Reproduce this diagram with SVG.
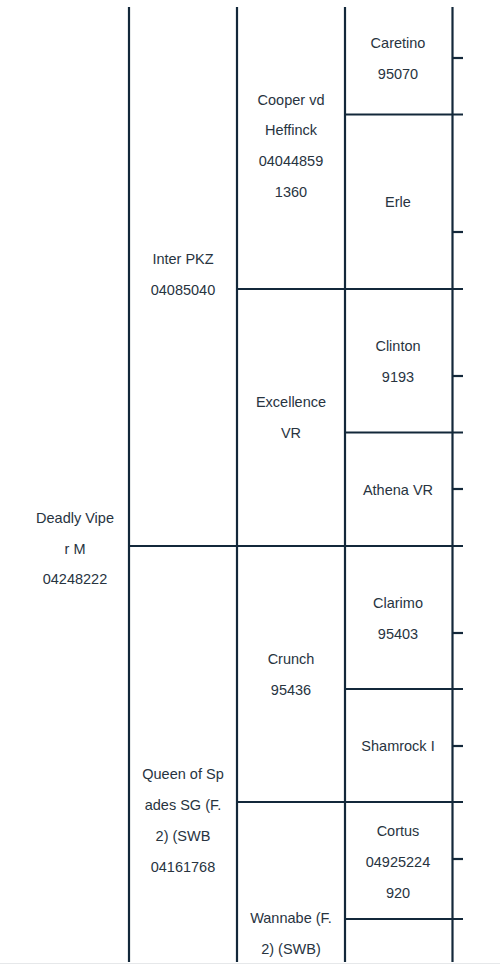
<svg xmlns="http://www.w3.org/2000/svg" width="500" height="966" viewBox="0 0 500 966">
<style>
.ln{stroke:#13283a;stroke-width:2.2;fill:none}
.t{font-family:"Liberation Sans",Arial,sans-serif;font-size:14.5px;fill:#28343f;text-anchor:middle;dominant-baseline:central}
</style>
<rect width="500" height="966" fill="#ffffff"/>
<line x1="0" y1="963.5" x2="500" y2="963.5" stroke="#e6e8ea" stroke-width="1"/>
<g id="connectors">
<line class="ln" x1="129" y1="7" x2="129" y2="962"/>
<line class="ln" x1="237" y1="7" x2="237" y2="962"/>
<line class="ln" x1="345" y1="7" x2="345" y2="962"/>
<line class="ln" x1="452.5" y1="7" x2="452.5" y2="962"/>
<line class="ln" x1="129" y1="546" x2="463" y2="546"/>
<line class="ln" x1="237" y1="289" x2="463" y2="289"/>
<line class="ln" x1="237" y1="802" x2="463" y2="802"/>
<line class="ln" x1="345" y1="114.5" x2="463" y2="114.5"/>
<line class="ln" x1="345" y1="432.5" x2="463" y2="432.5"/>
<line class="ln" x1="345" y1="689" x2="463" y2="689"/>
<line class="ln" x1="345" y1="919" x2="463" y2="919"/>
<line class="ln" x1="452.5" y1="58" x2="463" y2="58"/>
<line class="ln" x1="452.5" y1="232" x2="463" y2="232"/>
<line class="ln" x1="452.5" y1="376" x2="463" y2="376"/>
<line class="ln" x1="452.5" y1="489" x2="463" y2="489"/>
<line class="ln" x1="452.5" y1="633" x2="463" y2="633"/>
<line class="ln" x1="452.5" y1="746" x2="463" y2="746"/>
<line class="ln" x1="452.5" y1="859" x2="463" y2="859"/>
</g>
<g id="deadly-viper">
<text class="t" x="75" y="518">Deadly Vipe</text>
<text class="t" x="75" y="549">r M</text>
<text class="t" x="75" y="579">04248222</text>
</g>
<g id="inter-pkz">
<text class="t" x="183" y="259">Inter PKZ</text>
<text class="t" x="183" y="290">04085040</text>
</g>
<g id="queen-of-spades">
<text class="t" x="183" y="774">Queen of Sp</text>
<text class="t" x="183" y="805">ades SG (F.</text>
<text class="t" x="183" y="836">2) (SWB</text>
<text class="t" x="183" y="867">04161768</text>
</g>
<g id="cooper">
<text class="t" x="291" y="100">Cooper vd</text>
<text class="t" x="291" y="130">Heffinck</text>
<text class="t" x="291" y="161">04044859</text>
<text class="t" x="291" y="192">1360</text>
</g>
<g id="excellence">
<text class="t" x="291" y="402">Excellence</text>
<text class="t" x="291" y="433">VR</text>
</g>
<g id="crunch">
<text class="t" x="291" y="659">Crunch</text>
<text class="t" x="291" y="690">95436</text>
</g>
<g id="wannabe">
<text class="t" x="291" y="918">Wannabe (F.</text>
<text class="t" x="291" y="949">2) (SWB)</text>
</g>
<g id="caretino">
<text class="t" x="398" y="43">Caretino</text>
<text class="t" x="398" y="74">95070</text>
</g>
<g id="erle">
<text class="t" x="398" y="202">Erle</text>
</g>
<g id="clinton">
<text class="t" x="398" y="346">Clinton</text>
<text class="t" x="398" y="377">9193</text>
</g>
<g id="athena">
<text class="t" x="398" y="490">Athena VR</text>
</g>
<g id="clarimo">
<text class="t" x="398" y="603">Clarimo</text>
<text class="t" x="398" y="634">95403</text>
</g>
<g id="shamrock">
<text class="t" x="398" y="746">Shamrock I</text>
</g>
<g id="cortus">
<text class="t" x="398" y="831">Cortus</text>
<text class="t" x="398" y="862">04925224</text>
<text class="t" x="398" y="893">920</text>
</g>
</svg>
